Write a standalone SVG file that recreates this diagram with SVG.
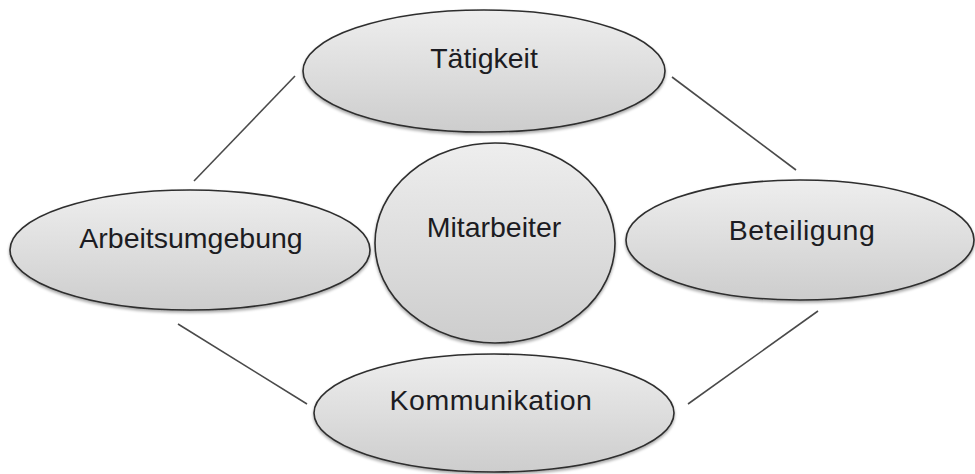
<svg xmlns="http://www.w3.org/2000/svg" width="975" height="474" viewBox="0 0 975 474">
  <defs>
    <linearGradient id="fillGrad" x1="0" y1="0" x2="0" y2="1">
      <stop offset="0" stop-color="#eeeeee"/>
      <stop offset="1" stop-color="#cdcdcd"/>
    </linearGradient>
    <filter id="shadow" x="-10%" y="-10%" width="120%" height="130%">
      <feGaussianBlur in="SourceAlpha" stdDeviation="1.5"/>
      <feOffset dx="0" dy="2" result="b"/>
      <feComponentTransfer><feFuncA type="linear" slope="0.35"/></feComponentTransfer>
      <feMerge><feMergeNode/><feMergeNode in="SourceGraphic"/></feMerge>
    </filter>
  </defs>
  <style>
    .node { fill: url(#fillGrad); stroke: #2e2e2e; stroke-width: 1.6; filter: url(#shadow); }
    .label { font-family: "Liberation Sans", Arial, sans-serif; font-size: 28.5px; fill: #1c1c22; text-anchor: middle; }
    .link { stroke: #4a4a4a; stroke-width: 1.6; fill: none; }
  </style>
  <rect width="975" height="474" fill="#ffffff"/>

  <g id="connectors">
    <line class="link" x1="295" y1="76" x2="194" y2="181"/>
    <line class="link" x1="672" y1="77" x2="796" y2="170"/>
    <line class="link" x1="178" y1="324" x2="307" y2="404"/>
    <line class="link" x1="818" y1="311" x2="688" y2="404"/>
  </g>

  <g id="taetigkeit">
    <ellipse class="node" cx="484" cy="71" rx="181" ry="61"/>
    <text class="label" x="484" y="68">Tätigkeit</text>
  </g>

  <g id="arbeitsumgebung">
    <ellipse class="node" cx="190" cy="250" rx="180" ry="60"/>
    <text class="label" x="191" y="248">Arbeitsumgebung</text>
  </g>

  <g id="mitarbeiter">
    <ellipse class="node" cx="495" cy="243" rx="120" ry="100"/>
    <text class="label" x="494" y="237">Mitarbeiter</text>
  </g>

  <g id="beteiligung">
    <ellipse class="node" cx="800" cy="240" rx="174" ry="60"/>
    <text class="label" x="802" y="240" letter-spacing="0.5">Beteiligung</text>
  </g>

  <g id="kommunikation">
    <ellipse class="node" cx="494" cy="413" rx="180" ry="59"/>
    <text class="label" x="491" y="410" letter-spacing="0.5">Kommunikation</text>
  </g>
</svg>
